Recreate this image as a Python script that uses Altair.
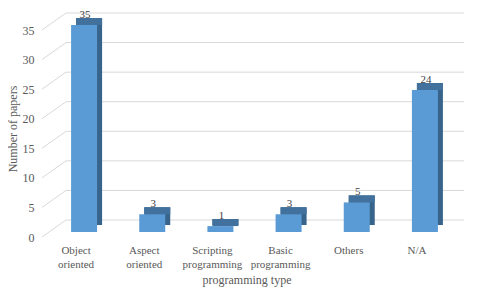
import altair as alt
import pandas as pd

categories = ["Object oriented", "Aspect oriented", "Scripting programming",
              "Basic programming", "Others", "N/A"]
values = [35, 3, 1, 3, 5, 24]
grid_values = [0, 5, 10, 15, 20, 25, 30, 35]

df = pd.DataFrame({"type": categories, "papers": values})
gdf = pd.DataFrame({"v": grid_values})

FONT = "Liberation Serif"
W, H = 409, 207
GRID = "#d9d9d9"

yscale = alt.Scale(domain=[0, 35], nice=False)
xscale = alt.Scale(domain=categories, paddingInner=0, paddingOuter=0)

yaxis = alt.Axis(title="Number of papers", values=grid_values, grid=False, domain=False,
                 ticks=False, labelFont=FONT, labelFontSize=12, labelColor="#595959",
                 labelPadding=8, labelOffset=5, labelOverlap=False, labelFlush=False,
                 labelBound=False,
                 titleFont=FONT, titleFontSize=12, titleFontWeight="normal",
                 titleColor="#595959", titleX=-30, titleY=H / 2, titleAngle=270,
                 titleAlign="center", titleBaseline="middle")

# back-wall gridlines
grid_back = alt.Chart(gdf).mark_rule(color=GRID, strokeWidth=1, yOffset=-12, y2Offset=-12).encode(
    y=alt.Y("v:Q", scale=yscale, axis=yaxis),
    y2="v:Q",
    x=alt.value(24),
    x2=alt.value(434),
)
grid_diag = alt.Chart(gdf).mark_rule(color=GRID, strokeWidth=1, yOffset=5, y2Offset=-12).encode(
    y=alt.Y("v:Q", scale=yscale, axis=yaxis),
    y2="v:Q",
    x=alt.value(0),
    x2=alt.value(24),
)

base = alt.Chart(df)
xenc = alt.X("type:N", sort=categories, scale=xscale,
             axis=alt.Axis(title="programming type", labelAngle=0, domain=False, ticks=False,
                           grid=False,
                           labelFont=FONT, labelFontSize=11, labelColor="#595959",
                           labelExpr="split(datum.label, ' ')", labelLineHeight=14,
                           labelPadding=12, labelBaseline="top",
                           titleFont=FONT, titleFontSize=12, titleFontWeight="normal",
                           titleColor="#595959", titlePadding=5))

side = base.mark_bar(color="#38648c", width=26, xOffset=13, yOffset=-7, y2Offset=-7).encode(
    x=xenc,
    y=alt.Y("papers:Q", scale=yscale, axis=yaxis),
    y2=alt.datum(0),
)
top = base.mark_bar(color="#41719c", width=26, xOffset=13, yOffset=-7, y2Offset=0).encode(
    x=xenc,
    y=alt.Y("papers:Q", scale=yscale, axis=yaxis),
    y2="papers:Q",
)
front = base.mark_bar(color="#5b9bd5", width=26, xOffset=8).encode(
    x=xenc,
    y=alt.Y("papers:Q", scale=yscale, axis=yaxis),
    y2=alt.datum(0),
)
labels = base.mark_text(font=FONT, fontSize=11, color="#404040", baseline="alphabetic",
                        dx=9, dy=-7).encode(
    x=xenc,
    y=alt.Y("papers:Q", scale=yscale, axis=yaxis),
    text="papers:Q",
)

chart = alt.layer(grid_back, grid_diag, side, top, front, labels).properties(
    width=W, height=H,
    padding={"left": 34, "top": 17, "right": 13, "bottom": 59},
    autosize=alt.AutoSizeParams(type="none"),
    background="white",
).configure_view(strokeWidth=0, stroke=None).configure_axisY(labelOverlap=False)

chart.save("out.html", embed_options={"renderer": "svg", "actions": False})
